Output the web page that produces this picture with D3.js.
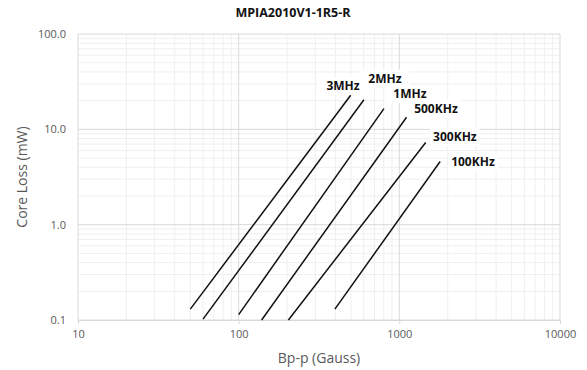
<!DOCTYPE html>
<html><head><meta charset="utf-8">
<script src="https://cdn.jsdelivr.net/npm/d3@7"></script>
<style>body{margin:0;background:#fff;} svg{display:block;}</style>
</head><body>
<script>
const seriesNames = ["3MHz","2MHz","1MHz","500KHz","300KHz","100KHz"];
const bStart   = [50, 60, 100, 139, 204, 397];
const bEnd     = [498, 602, 802, 1109, 1459, 1795];
const lossStart= [0.13, 0.102, 0.114, 0.1, 0.1, 0.13];
const lossEnd  = [22.8, 20.4, 16.5, 13.4, 7.28, 4.6];
const labelB   = [446, 813, 1164, 1690, 2218, 2872];
const labelLoss= [28.6, 33.8, 23.5, 16.4, 8.34, 4.56];
const xTicks = [10, 100, 1000, 10000];
const yTicks = [0.1, 1, 10, 100];
const yTickLabels = ["0.1","1.0","10.0","100.0"];
const title = "MPIA2010V1-1R5-R";
const xTitle = "Bp-p (Gauss)";
const yTitle = "Core Loss (mW)";

const W = 587, H = 370;
const m = {l:78, r:27, t:34, b:50};
const svg = d3.select("body").append("svg").attr("width", W).attr("height", H);
const x = d3.scaleLog().domain([10, 10000]).range([m.l, W - m.r]);
const y = d3.scaleLog().domain([0.1, 100]).range([H - m.b, m.t]);

// minor grid
const minorX = [], minorY = [];
[10,100,1000].forEach(d => { for (let k=2;k<10;k++) minorX.push(d*k); });
[0.1,1,10].forEach(d => { for (let k=2;k<10;k++) minorY.push(d*k); });
const g = svg.append("g");
g.selectAll(".mx").data(minorX).join("line")
  .attr("x1", d=>x(d)).attr("x2", d=>x(d)).attr("y1", y(0.1)).attr("y2", y(100))
  .attr("stroke", "#efefef").attr("stroke-width", 1);
g.selectAll(".my").data(minorY).join("line")
  .attr("y1", d=>y(d)).attr("y2", d=>y(d)).attr("x1", x(10)).attr("x2", x(10000))
  .attr("stroke", "#efefef").attr("stroke-width", 1);
g.selectAll(".Mx").data(xTicks).join("line")
  .attr("x1", d=>x(d)).attr("x2", d=>x(d)).attr("y1", y(0.1)).attr("y2", y(100))
  .attr("stroke", "#d9d9d9").attr("stroke-width", 1);
g.selectAll(".My").data(yTicks).join("line")
  .attr("y1", d=>y(d)).attr("y2", d=>y(d)).attr("x1", x(10)).attr("x2", x(10000))
  .attr("stroke", "#d9d9d9").attr("stroke-width", 1);

// axes
const xAxis = d3.axisBottom(x).tickValues(xTicks).tickFormat(d3.format("d")).tickSize(4).tickPadding(6);
const yAxis = d3.axisLeft(y).tickValues(yTicks).tickFormat((d,i)=>yTickLabels[i]).tickSize(0).tickPadding(12);
const xa = svg.append("g").attr("transform", `translate(0,${y(0.1)})`).call(xAxis);
const ya = svg.append("g").attr("transform", `translate(${x(10)},0)`).call(yAxis);
[xa, ya].forEach(a => {
  a.select(".domain").attr("stroke", "#d9d9d9");
  a.selectAll(".tick line").attr("stroke", "#d9d9d9");
  a.selectAll("text").attr("fill", "#595959").attr("font-family", "'Open Sans', sans-serif").attr("font-size", 11);
});
ya.select(".domain").remove();

// series
const series = seriesNames.map((n,i)=>({name:n, pts:[[bStart[i], lossStart[i]],[bEnd[i], lossEnd[i]]], lb:labelB[i], ll:labelLoss[i]}));
const line = d3.line().x(d=>x(d[0])).y(d=>y(d[1]));
svg.selectAll(".s").data(series).join("path")
  .attr("d", d=>line(d.pts)).attr("fill","none").attr("stroke","#111").attr("stroke-width",1.5);

// labels
const lg = svg.selectAll(".lab").data(series).join("g")
  .attr("transform", d=>`translate(${x(d.lb)},${y(d.ll)})`);
lg.append("rect").attr("x", -25).attr("y", -9).attr("width", 50).attr("height", 18).attr("fill", "#fff");
lg.append("text").text(d=>d.name).attr("text-anchor","middle").attr("dy","0.35em")
  .attr("font-family","'Open Sans', sans-serif").attr("font-weight","bold").attr("font-size",12).attr("fill","#111");

svg.append("text").text(title).attr("x", 293).attr("y", 13).attr("dy","0.35em").attr("text-anchor","middle")
  .attr("font-family","'Open Sans', sans-serif").attr("font-weight","bold").attr("font-size",12.5).attr("fill","#111");
svg.append("text").text(xTitle).attr("x", (x(10)+x(10000))/2).attr("y", 358).attr("dy","0.35em").attr("text-anchor","middle")
  .attr("font-family","'Open Sans', sans-serif").attr("font-size",14).attr("fill","#595959");
svg.append("text").text(yTitle).attr("transform", `translate(22,${(y(0.1)+y(100))/2}) rotate(-90)`).attr("dy","0.35em").attr("text-anchor","middle")
  .attr("font-family","'Open Sans', sans-serif").attr("font-size",14).attr("fill","#595959");
</script>
</body></html>
